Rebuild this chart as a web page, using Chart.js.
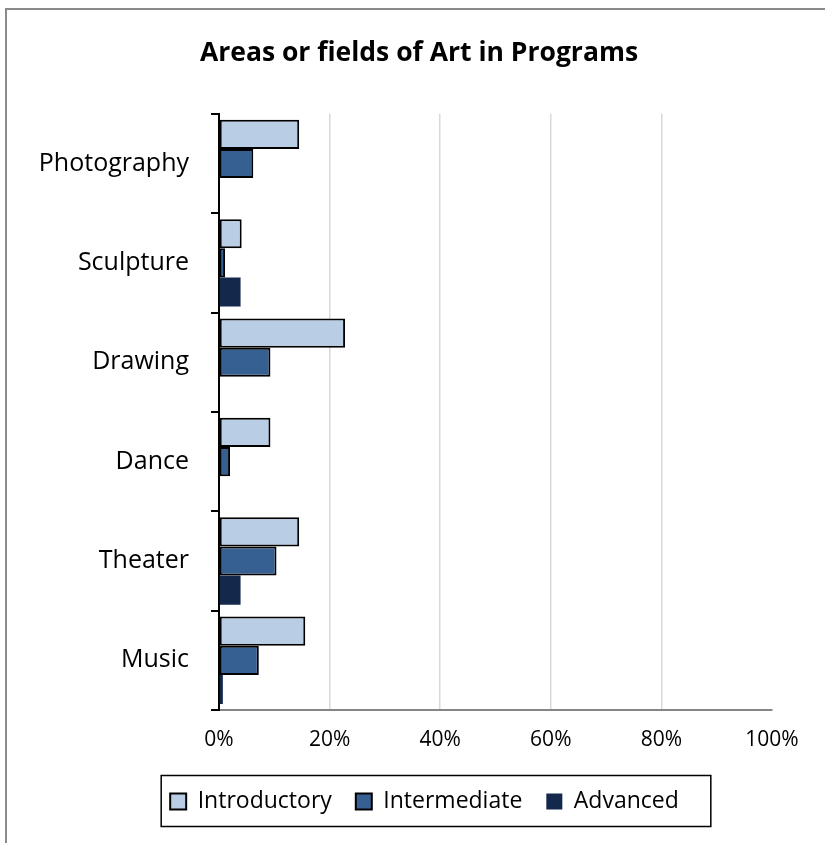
<!DOCTYPE html>
<html>
<head>
<meta charset="utf-8">
<script src="https://cdn.jsdelivr.net/npm/chart.js@4.4.1/dist/chart.umd.min.js"></script>
<style>
  html, body { margin: 0; padding: 0; background: #fff; }
  #wrap { position: relative; width: 825px; height: 843px; }
  #frame {
    position: absolute; left: 5px; top: 8px; right: -2px; bottom: -2px;
    border-top: 2px solid #8a8a8a; border-left: 2px solid #8a8a8a;
  }
  canvas { position: absolute; left: 0; top: 0; }
</style>
</head>
<body>
<div id="wrap">
  <div id="frame"></div>
  <canvas id="chart" width="825" height="843"></canvas>
</div>
<script>
// categorias (de cima para baixo) e valores em %
const categorias = ['Photography', 'Sculpture', 'Drawing', 'Dance', 'Theater', 'Music'];
const introductory = [14.5, 4.1, 22.8, 9.3, 14.5, 15.6];
const intermediate = [6.2, 1.1, 9.3, 2.0, 10.4, 7.2];
const advanced = [0, 3.9, 0, 0, 3.9, 0.7];
const xTicks = [0, 20, 40, 60, 80, 100];

const FONT = "'Open Sans', sans-serif";

// centraliza título e legenda como no Excel + desenha a caixa da legenda
const legendBox = {
  id: 'legendBox',
  afterUpdate(chart) {
    const t = chart.titleBlock;
    const dt = 419 - (t.left + t.right) / 2;
    t.left += dt; t.right += dt;

    const lg = chart.legend;
    const boxes = lg.legendHitBoxes;
    if (!boxes || !boxes.length) return;
    const first = boxes[0], last = boxes[boxes.length - 1];
    const cx = ((first.left - 9) + (last.left + last.width + 32)) / 2;
    const d = 436 - cx;
    lg.left += d; lg.right += d;
    boxes.forEach(b => { b.left += d; });
  },
  afterDraw(chart) {
    const boxes = chart.legend.legendHitBoxes;
    if (!boxes || !boxes.length) return;
    const first = boxes[0], last = boxes[boxes.length - 1];
    const cy = first.top + first.height / 2;
    const ctx = chart.ctx;
    ctx.save();
    ctx.strokeStyle = '#000';
    ctx.lineWidth = 1.5;
    ctx.strokeRect(first.left - 9, cy - 26, (last.left + last.width + 32) - (first.left - 9), 51);
    ctx.restore();
  }
};

new Chart(document.getElementById('chart'), {
  type: 'bar',
  data: {
    labels: categorias,
    datasets: [
      { label: 'Introductory', data: introductory, backgroundColor: '#b9cde5', borderColor: '#000', borderWidth: 2, borderSkipped: false },
      { label: 'Intermediate', data: intermediate, backgroundColor: '#376092', borderColor: '#000', borderWidth: 2, borderSkipped: false },
      { label: 'Advanced', data: advanced, backgroundColor: '#13284a', borderColor: '#13284a', borderWidth: 0 }
    ]
  },
  options: {
    indexAxis: 'y',
    responsive: false,
    animation: false,
    categoryPercentage: 0.88,
    barPercentage: 1.0,
    layout: { padding: { left: 0, right: 53, top: 0, bottom: 20 } },
    plugins: {
      title: {
        display: true,
        text: 'Areas or fields of Art in Programs',
        color: '#000',
        font: { family: FONT, size: 26.5, weight: 'bold' },
        padding: { top: 38, bottom: 44 }
      },
      legend: {
        position: 'bottom',
        labels: {
          color: '#000',
          font: { family: FONT, size: 23 },
          boxWidth: 16,
          boxHeight: 16,
          padding: 24
        }
      },
      tooltip: { enabled: false }
    },
    scales: {
      x: {
        min: 0,
        max: 100,
        afterBuildTicks: (scale) => { scale.ticks = xTicks.map(v => ({ value: v })); },
        afterFit: (scale) => { scale.height = 56; },
        ticks: {
          color: '#000',
          font: { family: FONT, size: 21 },
          padding: 17,
          callback: (v) => v + '%'
        },
        grid: {
          drawTicks: false,
          lineWidth: 1.5,
          color: (ctx) => (ctx.tick && ctx.tick.value === 100) ? 'rgba(0,0,0,0)' : '#d9d9d9'
        },
        border: { display: true, color: '#868686', width: 2 }
      },
      y: {
        afterFit: (scale) => { scale.width = 219; },
        ticks: {
          color: '#000',
          font: { family: FONT, size: 25 },
          padding: 22
        },
        grid: {
          offset: true,
          drawOnChartArea: false,
          drawTicks: true,
          tickLength: 8,
          color: '#000',
          lineWidth: 2
        },
        border: { display: true, color: '#000', width: 2 }
      }
    }
  },
  plugins: [legendBox]
});
</script>
</body>
</html>
